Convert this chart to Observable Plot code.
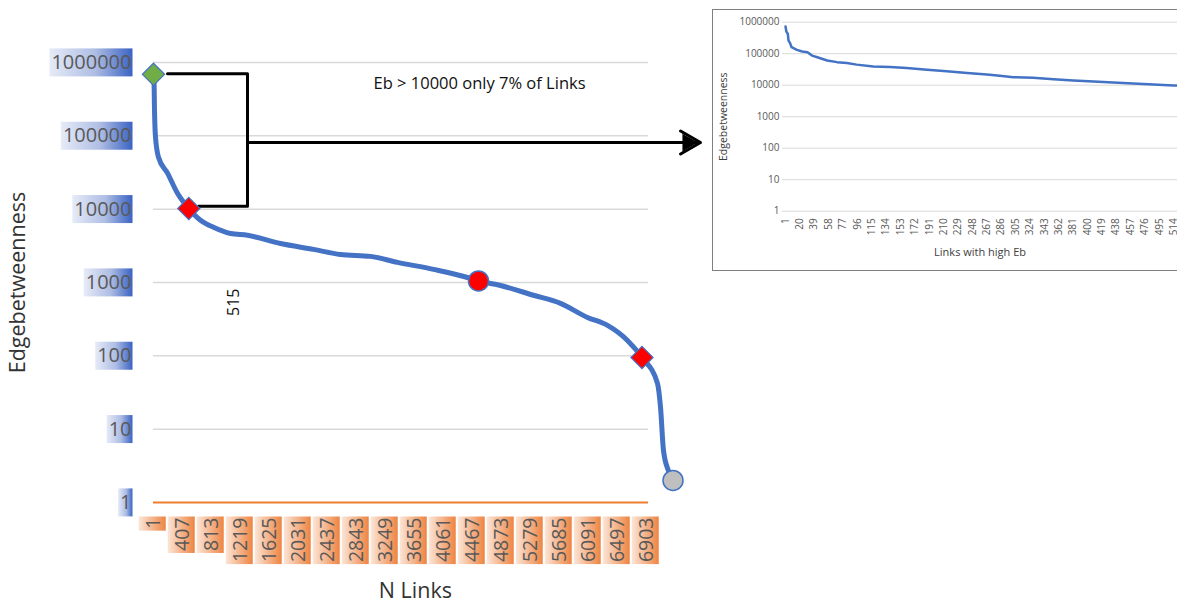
<!DOCTYPE html>
<html><head><meta charset="utf-8">
<script src="https://cdn.jsdelivr.net/npm/d3@7"></script>
<script src="https://cdn.jsdelivr.net/npm/@observablehq/plot@0.6"></script>
<style>
html,body{margin:0;padding:0;background:#fff;overflow:hidden;width:1177px;height:604px;}
#wrap{position:relative;width:1177px;height:604px;overflow:hidden;}
#main{position:absolute;left:0;top:0;}
#inset{position:absolute;left:712px;top:9px;width:480px;height:260px;border:1px solid #7f7f7f;background:#fff;}
</style></head><body><div id="wrap"><div id="main"></div><div id="inset"></div></div>
<script>
// ---------- data ----------
const yTicks = [1, 10, 100, 1000, 10000, 100000, 1000000];
const xTickLinks = [1, 407, 813, 1219, 1625, 2031, 2437, 2843, 3249, 3655, 4061, 4467, 4873, 5279, 5685, 6091, 6497, 6903];
const mainLinks = [1, 8, 15, 29, 71, 197, 337, 495, 659, 841, 1079, 1317, 1779, 2241, 2619, 3039, 3417, 3921, 4397, 4551, 4859, 5321, 5699, 6077, 6357, 6637, 6840, 7057, 7099, 7141, 7211, 7274];
const mainEb = [690000, 575000, 224000, 96000, 51000, 31000, 16500, 10200, 7060, 5650, 4650, 4400, 3400, 2830, 2410, 2270, 1880, 1510, 1170, 1050, 910, 670, 520, 334, 260, 162, 95, 42, 20, 5.1, 2.7, 2.0];
const diamondLinks = [1, 495, 6840];
const diamondEb = [690000, 10200, 95];
const diamondFill = ["#70AD47", "#FF0000", "#FF0000"];
const circleLinks = [4551, 7274];
const circleEb = [1050, 2.0];
const circleFill = ["#FF0000", "#BFBFBF"];
const bracketLinks = [197, 1317, 1317, 631];
const bracketEb = [705000, 705000, 11000, 11000];
const arrowLinks = [1317, 7659];
const arrowEb = [81000, 81000];
const arrowTipLink = [7478];
const noteText = ["Eb > 10000 only 7% of Links"];
const noteLink = [3081];
const noteEb = [520000];
const label515 = ["515"];
const label515Link = [1121];
const label515Eb = [537];
const insetXTicks = [1, 20, 39, 58, 77, 96, 115, 134, 153, 172, 191, 210, 229, 248, 267, 286, 305, 324, 343, 362, 381, 400, 419, 438, 457, 476, 495, 514];
const insetLinks = [1, 2, 4, 5, 7, 9, 16, 23, 30, 36, 43, 56, 69, 82, 95, 117, 139, 161, 188, 214, 241, 267, 284, 302, 328, 355, 381, 408, 434, 460, 487, 514, 540];
const insetEb = [730000, 515000, 424000, 262000, 216000, 161000, 132000, 117000, 112000, 87000, 77000, 61000, 54000, 51000, 45000, 39000, 37500, 35000, 31000, 27800, 24600, 21900, 20000, 17900, 17300, 15500, 14100, 13100, 12200, 11300, 10500, 9800, 9500];

// ---------- tables ----------
const mainData = mainLinks.map((l, i) => ({link: l, eb: mainEb[i]}));
const diamonds = diamondLinks.map((l, i) => ({link: l, eb: diamondEb[i], fill: diamondFill[i]}));
const circles = circleLinks.map((l, i) => ({link: l, eb: circleEb[i], fill: circleFill[i]}));
const bracket = bracketLinks.map((l, i) => ({link: l, eb: bracketEb[i]}));
const arrow = [{x1: arrowLinks[0], x2: arrowLinks[1], y1: arrowEb[0], y2: arrowEb[1]}];
const insetData = insetLinks.map((l, i) => ({link: l, eb: insetEb[i]}));
const FONT = "'Open Sans', sans-serif";

const main = Plot.plot({
  width: 1177, height: 604,
  marginLeft: 153, marginRight: 529, marginTop: 62, marginBottom: 102,
  x: {domain: [1, 6931], axis: null},
  y: {type: "log", domain: [1, 1000000], axis: null},
  style: {fontFamily: FONT, background: "#fff", overflow: "visible"},
  marks: [
    Plot.ruleY(yTicks.filter(d => d > 1), {stroke: "#d9d9d9", strokeWidth: 1.5}),
    Plot.ruleY([1], {stroke: "#ED7D31", strokeWidth: 1.8}),
    Plot.text(yTicks, {y: d => d, frameAnchor: "left", dx: -22, textAnchor: "end", lineAnchor: "middle", text: d => String(d), fontSize: 20, fill: "#595959", ariaDescription: "ytick"}),
    Plot.text(xTickLinks, {x: d => d, frameAnchor: "bottom", dy: 15, rotate: -90, textAnchor: "end", lineAnchor: "middle", text: d => String(d), fontSize: 19.5, fill: "#595959", ariaDescription: "xtick"}),
    Plot.text(["Edgebetweenness"], {frameAnchor: "left", dx: -135, y: () => 1000, rotate: -90, textAnchor: "middle", lineAnchor: "middle", fontSize: 21.5, fill: "#333"}),
    Plot.text(["N Links"], {frameAnchor: "bottom", x: () => 3668, dy: 89, textAnchor: "middle", lineAnchor: "middle", fontSize: 21.5, fill: "#333"}),
    Plot.line(bracket, {x: "link", y: "eb", stroke: "#000", strokeWidth: 3}),
    Plot.arrow(arrow, {x1: "x1", y1: "y1", x2: "x2", y2: "y2", stroke: "#000", strokeWidth: 3, headLength: 11.5}),
    Plot.dot(arrowTipLink, {x: d => d, y: () => arrowEb[1], symbol: "triangle2", rotate: 90, r: 8.5, fill: "#000"}),
    Plot.text(noteText, {x: () => noteLink[0], y: () => noteEb[0], textAnchor: "start", fontSize: 16.5, fill: "#111"}),
    Plot.text(label515, {x: () => label515Link[0], y: () => label515Eb[0], rotate: -90, fontSize: 16, fill: "#111"}),
    Plot.line(mainData, {x: "link", y: "eb", stroke: "#4472C4", strokeWidth: 5, curve: "monotone-x"}),
    Plot.dot(diamonds, {x: "link", y: "eb", symbol: "diamond2", r: 10, fill: d => d.fill, stroke: "#4472C4", strokeWidth: 1.2}),
    Plot.dot(circles, {x: "link", y: "eb", r: 10, fill: d => d.fill, stroke: "#4472C4", strokeWidth: 1.5})
  ]
});
document.getElementById("main").append(main);

const inset = Plot.plot({
  width: 480, height: 260,
  marginLeft: 69, marginRight: 0, marginTop: 11.7, marginBottom: 59.3,
  x: {domain: [-3, 540], axis: null},
  y: {type: "log", domain: [1, 1000000], axis: null},
  style: {fontFamily: FONT, background: "#fff"},
  marks: [
    Plot.ruleY(yTicks, {stroke: "#d9d9d9", strokeWidth: 1}),
    Plot.text(yTicks, {y: d => d, frameAnchor: "left", dx: -3, textAnchor: "end", lineAnchor: "middle", text: d => String(d), fontSize: 10, fill: "#595959"}),
    Plot.text(insetXTicks, {x: d => d, frameAnchor: "bottom", dy: 7, rotate: -90, textAnchor: "end", lineAnchor: "middle", text: d => String(d), fontSize: 10, fill: "#595959"}),
    Plot.text(["Edgebetweenness"], {frameAnchor: "left", dx: -59, y: () => 1000, rotate: -90, textAnchor: "middle", lineAnchor: "middle", fontSize: 10.5, fill: "#404040"}),
    Plot.text(["Links with high Eb"], {frameAnchor: "bottom", x: () => 258, dy: 41, textAnchor: "middle", lineAnchor: "middle", fontSize: 11, fill: "#404040"}),
    Plot.line(insetData, {x: "link", y: "eb", stroke: "#4472C4", strokeWidth: 2.5})
  ]
});
document.getElementById("inset").append(inset);

// ---------- gradient boxes behind main tick labels ----------
const NS = "http://www.w3.org/2000/svg";
function el(name, attrs) { const e = document.createElementNS(NS, name); for (const k in attrs) e.setAttribute(k, attrs[k]); return e; }
const defs = el("defs", {});
const gb = el("linearGradient", {id: "gblue", x1: 0, x2: 1, y1: 0, y2: 0});
[["0%", "#e6ebf7"], ["55%", "#aebde4"], ["100%", "#3a63c2"]].forEach(([o, c]) => gb.appendChild(el("stop", {offset: o, "stop-color": c})));
const go = el("linearGradient", {id: "gorange", x1: 0, x2: 1, y1: 0, y2: 0});
[["0%", "#fbe6d8"], ["100%", "#ee8442"]].forEach(([o, c]) => go.appendChild(el("stop", {offset: o, "stop-color": c})));
defs.appendChild(gb); defs.appendChild(go);
const boxes = el("g", {});
main.insertBefore(boxes, main.firstChild);
main.insertBefore(defs, main.firstChild);
const sr = main.getBoundingClientRect();
main.querySelectorAll('g[aria-description="ytick"] text').forEach(t => {
  const r = t.getBoundingClientRect();
  boxes.appendChild(el("rect", {x: r.left - sr.left - 2, y: r.top - sr.top + 0.5, width: r.width + 3, height: r.height + 1, fill: "url(#gblue)"}));
});
main.querySelectorAll('g[aria-description="xtick"] text').forEach(t => {
  const r = t.getBoundingClientRect();
  boxes.appendChild(el("rect", {x: r.left - sr.left, y: r.top - sr.top - 1, width: r.width, height: r.height + 3, fill: "url(#gorange)"}));
});
</script>
</body></html>
